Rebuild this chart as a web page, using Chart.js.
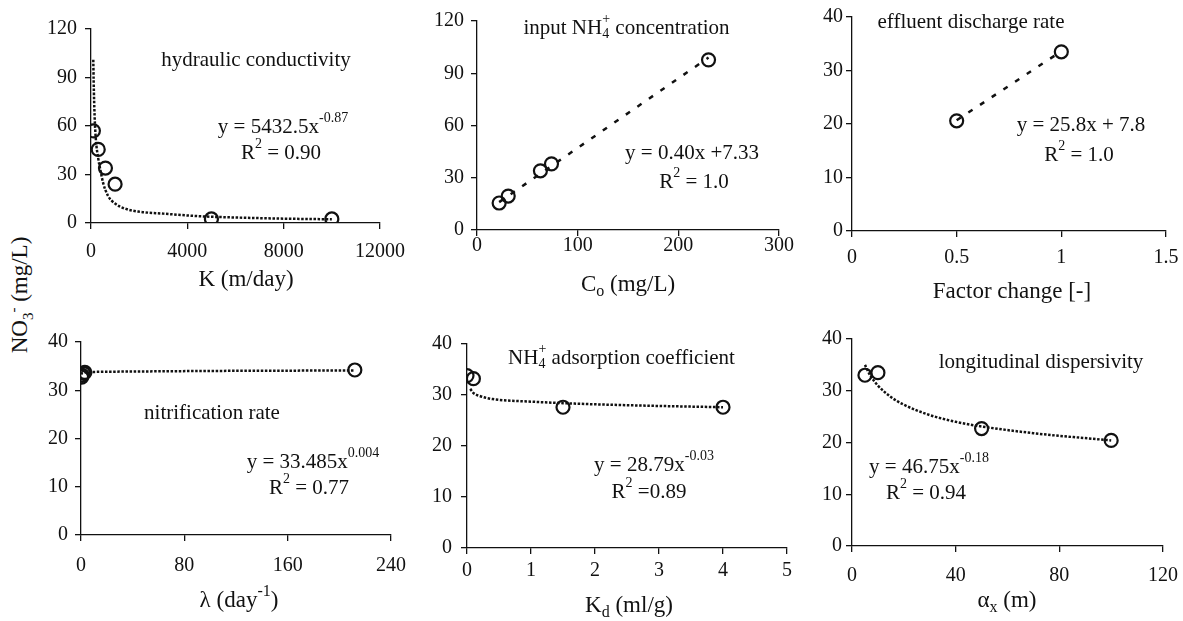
<!DOCTYPE html>
<html>
<head>
<meta charset="utf-8">
<script src="https://cdn.jsdelivr.net/npm/chart.js@4.4.1/dist/chart.umd.min.js"></script>
<style>
    body { margin: 0; background: #fff; width: 1183px; height: 621px; overflow: hidden; position: relative; font-family: 'Liberation Serif', serif; }
    canvas { position: absolute; }
    #ytitle {
        position: absolute; left: -80px; top: 280px; width: 200px; height: 30px;
        line-height: 30px; text-align: center; font-size: 23px; color: #111;
        transform: rotate(-90deg);
    }
    #ytitle sub, #ytitle sup { font-size: 15px; line-height: 0; }
</style>
</head>
<body>
<div id="ytitle">NO<sub>3</sub><sup>-</sup> (mg/L)</div>

<script>
// 水力传导系数 K
const kX = [100, 300, 600, 1000, 5000, 10000];
const kY = [57, 45.5, 34, 24, 2.5, 2.5];
const kFitX = [95, 110, 150, 200, 300, 400, 500, 700, 1000, 1500, 2000, 3000, 4500, 6000, 8000, 10000];
const kFitY = [101, 88, 66, 52, 40, 32, 25, 17, 12, 8.5, 7, 5.8, 4.2, 3.4, 2.7, 2.3];

// 输入 NH4+ 浓度
const cX = [22, 31, 63, 74, 230];
const cY = [15.5, 19.5, 34, 38, 97.7];
const cFitX = [22, 230];
const cFitY = [16, 99];

// 出水排放率
const qX = [0.5, 1];
const qY = [20.6, 33.5];
const qFitX = [0.5, 1];
const qFitY = [20.7, 33.6];

// 硝化速率
const lamX = [0.5, 1, 2, 3, 212];
const lamY = [32.7, 33.1, 33.5, 33.7, 34.2];
const lamFitX = [0.1, 1, 10, 50, 100, 212];
const lamFitY = [33.3, 33.6, 33.8, 33.9, 34.0, 34.1];

// NH4+ 吸附系数
const kdX = [0, 0.1, 1.5, 4];
const kdY = [33.8, 33.2, 27.6, 27.6];
const kdFitX = [0.05, 0.1, 0.2, 0.4, 1, 1.5, 2.5, 4];
const kdFitY = [31.2, 30.4, 29.8, 29.2, 28.7, 28.4, 28.0, 27.6];

// 纵向弥散度
const axX = [5, 10, 50, 100];
const axY = [33, 33.5, 22.7, 20.4];
const axFitX = [5, 7, 10, 15, 20, 30, 40, 50, 70, 100];
const axFitY = [35, 33, 31, 28.8, 27.3, 25.3, 24, 23.1, 21.8, 20.4];

const INK = '#111';
const FONT = '"Liberation Serif", "Times New Roman", serif';
const DOTS = [2.5, 1.6];
const DASHES = [5, 9];

// 每个子图: 绘图区 [左, 上, 右, 下]
const panels = [
    { area: [91, 23, 382, 223], xr: [0, 12000, 4000], yr: [0, 120, 30], xPad: 11, yPad: 8,
      pts: [kX, kY], fit: [kFitX, kFitY], dash: DOTS,
      texts: [
          [[['hydraulic conductivity', '']], 256, 60, 21],
          [[['y = 5432.5x', ''], ['-0.87', 'sup']], 283, 127, 21],
          [[['R', ''], ['2', 'sup'], [' = 0.90', '']], 281, 153, 21],
          [[['K (m/day)', '']], 246, 280, 23]
      ] },
    { area: [477, 16, 779, 230], xr: [0, 300, 100], yr: [0, 120, 30], xPad: -2, yPad: 7,
      pts: [cX, cY], fit: [cFitX, cFitY], dash: DASHES,
      texts: [
          [[['input NH', ''], ['4', 'sub'], ['+', 'sup'], [' concentration', '']], 630, 28, 21],
          [[['y = 0.40x +7.33', '']], 692, 153, 21],
          [[['R', ''], ['2', 'sup'], [' = 1.0', '']], 694, 182, 21],
          [[['C', ''], ['o', 'sub'], [' (mg/L)', '']], 628, 285, 23]
      ] },
    { area: [852, 16, 1166, 231], xr: [0, 1.5, 0.5], yr: [0, 40, 10], xPad: 9, yPad: 3,
      pts: [qX, qY], fit: [qFitX, qFitY], dash: DASHES,
      texts: [
          [[['effluent discharge rate', '']], 971, 22, 21],
          [[['y = 25.8x + 7.8', '']], 1081, 125, 21],
          [[['R', ''], ['2', 'sup'], [' = 1.0', '']], 1079, 155, 21],
          [[['Factor change [-]', '']], 1012, 292, 23]
      ] },
    { area: [81, 337, 391, 535], xr: [0, 240, 80], yr: [0, 40, 10], xPad: 13, yPad: 7,
      pts: [lamX, lamY], fit: [lamFitX, lamFitY], dash: DOTS,
      texts: [
          [[['nitrification rate', '']], 212, 413, 21],
          [[['y = 33.485x', ''], ['0.004', 'sup']], 313, 462, 21],
          [[['R', ''], ['2', 'sup'], [' = 0.77', '']], 309, 488, 21],
          [[['λ (day', ''], ['-1', 'sup'], [')', '']], 239, 601, 23]
      ] },
    { area: [467, 337, 787, 548], xr: [0, 5, 1], yr: [0, 40, 10], xPad: 5, yPad: 9,
      pts: [kdX, kdY], fit: [kdFitX, kdFitY], dash: DOTS,
      texts: [
          [[['NH', ''], ['4', 'sub'], ['+', 'sup'], [' adsorption coefficient', '']], 625, 358, 21],
          [[['y = 28.79x', ''], ['-0.03', 'sup']], 654, 465, 21],
          [[['R', ''], ['2', 'sup'], [' =0.89', '']], 649, 492, 21],
          [[['K', ''], ['d', 'sub'], [' (ml/g)', '']], 629, 606, 23]
      ] },
    { area: [852, 337, 1163, 546], xr: [0, 120, 40], yr: [0, 40, 10], xPad: 12, yPad: 4,
      pts: [axX, axY], fit: [axFitX, axFitY], dash: DOTS,
      texts: [
          [[['longitudinal dispersivity', '']], 1041, 362, 21],
          [[['y = 46.75x', ''], ['-0.18', 'sup']], 929, 467, 21],
          [[['R', ''], ['2', 'sup'], [' = 0.94', '']], 926, 493, 21],
          [[['α', ''], ['x', 'sub'], [' (m)', '']], 1007, 601, 23]
      ] }
];

const Y_W = 75, X_H = 80, PAD_T = 14, PAD_R = 34;

// 绘制带上下标的文字
function drawRich(ctx, parts, cx, cy, size) {
    const small = Math.round(size * 0.68);
    const widths = parts.map(([t, m]) => {
        ctx.font = (m ? small : size) + 'px ' + FONT;
        return ctx.measureText(t).width;
    });
    let x = cx - widths.reduce((a, b) => a + b, 0) / 2;
    ctx.textBaseline = 'middle';
    ctx.textAlign = 'left';
    ctx.fillStyle = INK;
    parts.forEach(([t, m], i) => {
        ctx.font = (m ? small : size) + 'px ' + FONT;
        const dy = m === 'sup' ? -size * 0.4 : (m === 'sub' ? size * 0.3 : 0);
        ctx.fillText(t, x, cy + dy);
        // 上标紧跟下标时不前移
        if (!(m === 'sub' && parts[i + 1] && parts[i + 1][1] === 'sup')) x += widths[i];
    });
}

function axisOpts(r, pad, fitFn) {
    return {
        type: 'linear', min: r[0], max: r[1],
        ticks: {
            stepSize: r[2], padding: pad, color: INK,
            font: { family: FONT, size: 20 },
            callback: v => String(v)
        },
        grid: { drawOnChartArea: false, drawTicks: true, tickLength: 6, color: INK, lineWidth: 1.3 },
        border: { display: true, color: INK, width: 1.3 },
        afterFit: fitFn
    };
}

panels.forEach((p, i) => {
    const [L, T, R, B] = p.area;
    const left = L - Y_W, top = T - PAD_T;
    const w = Y_W + (R - L) + PAD_R, h = PAD_T + (B - T) + X_H;
    const cv = document.createElement('canvas');
    cv.width = w; cv.height = h;
    cv.style.left = left + 'px'; cv.style.top = top + 'px';
    cv.style.width = w + 'px'; cv.style.height = h + 'px';
    document.body.appendChild(cv);

    const notes = {
        id: 'notes' + i,
        afterDraw(chart) {
            const ctx = chart.ctx;
            ctx.save();
            p.texts.forEach(([parts, x, y, s]) => drawRich(ctx, parts, x - left, y - top, s));
            ctx.restore();
        }
    };

    new Chart(cv.getContext('2d'), {
        type: 'scatter',
        data: {
            datasets: [
                {
                    data: p.pts[0].map((x, j) => ({ x, y: p.pts[1][j] })),
                    pointStyle: 'circle', pointRadius: 6.5, pointBorderWidth: 2.2,
                    pointBorderColor: INK, pointBackgroundColor: 'rgba(0,0,0,0)',
                    showLine: false, order: 1
                },
                {
                    data: p.fit[0].map((x, j) => ({ x, y: p.fit[1][j] })),
                    showLine: true, pointRadius: 0, borderColor: INK, borderWidth: 2.5,
                    borderDash: p.dash, cubicInterpolationMode: 'monotone', order: 2
                }
            ]
        },
        options: {
            responsive: false, animation: false, devicePixelRatio: 1,
            layout: { padding: { top: PAD_T, right: PAD_R, left: 0, bottom: 0 } },
            plugins: { legend: { display: false }, tooltip: { enabled: false } },
            scales: {
                x: axisOpts(p.xr, p.xPad, s => { s.height = X_H; }),
                y: axisOpts(p.yr, p.yPad, s => { s.width = Y_W; })
            }
        },
        plugins: [notes]
    });
});
</script>
</body>
</html>
